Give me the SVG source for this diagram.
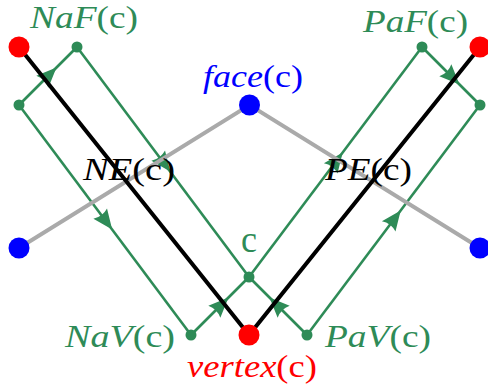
<svg xmlns="http://www.w3.org/2000/svg" xmlns:xlink="http://www.w3.org/1999/xlink" width="488" height="390" viewBox="0 0 488 390">
<style>
.g{stroke:#2e8b57;stroke-width:2.6;fill:none}
.gr{stroke:#aaaaaa;stroke-width:4;fill:none}
.bk{stroke:#000;stroke-width:4;fill:none}
.gn{fill:#2e8b57}
.rn{fill:#ff0000}
.bn{fill:#0000ff}
.ah{fill:#2e8b57}
text{font-family:"Liberation Serif","Times New Roman",serif;font-size:32px}
.it{font-style:italic}
</style>
<defs>
<path id="ah" d="M12,0 L-8,-8.5 Q-4,0 -8,8.5 Z"/>
</defs>
<g id="connectors">
<path class="g" d="M19,105 L77,47"/>
<path class="g" d="M19,105 L191,335"/>
<path class="g" d="M191,335 L249,277"/>
<path class="g" d="M77,47 L249,277"/>
<path class="g" d="M422,47 L480,105"/>
<path class="g" d="M307,335 L480,105"/>
<path class="g" d="M307,335 L249,277"/>
<path class="g" d="M249,277 L422,47"/>
<g class="ah">
<use href="#ah" xlink:href="#ah" transform="translate(48,76) rotate(-45)"/>
<use href="#ah" xlink:href="#ah" transform="translate(105,220) rotate(53.2)"/>
<use href="#ah" xlink:href="#ah" transform="translate(220,306) rotate(-45)"/>
<use href="#ah" xlink:href="#ah" transform="translate(163,162) rotate(53.2)"/>
<use href="#ah" xlink:href="#ah" transform="translate(451,76) rotate(45)"/>
<use href="#ah" xlink:href="#ah" transform="translate(393.5,220) rotate(-53.1)"/>
<use href="#ah" xlink:href="#ah" transform="translate(278,306) rotate(-135)"/>
<use href="#ah" xlink:href="#ah" transform="translate(335.5,162) rotate(-53.1)"/>
</g>
<path class="gr" d="M19,248 L249.5,105 L480,248"/>
<path class="bk" d="M19,47 L249,335 L480,47"/>
</g>
<g id="label-NE"><text x="83" y="180" textLength="92" lengthAdjust="spacingAndGlyphs"><tspan class="it">NE</tspan>(c)</text></g>
<g id="label-PE"><text x="325" y="180" textLength="87" lengthAdjust="spacingAndGlyphs"><tspan class="it">PE</tspan>(c)</text></g>
<g id="node-face"><circle class="bn" cx="249.5" cy="105" r="10.5"/><text fill="#0000ff" x="203" y="87" textLength="100" lengthAdjust="spacingAndGlyphs"><tspan class="it">face</tspan>(c)</text></g>
<g id="node-blue-left"><circle class="bn" cx="19" cy="248" r="10.5"/></g>
<g id="node-blue-right"><circle class="bn" cx="480" cy="248" r="10.5"/></g>
<g id="node-red-left"><circle class="rn" cx="19" cy="47" r="10.5"/></g>
<g id="node-red-right"><circle class="rn" cx="480" cy="47" r="10.5"/></g>
<g id="node-vertex"><circle class="rn" cx="249" cy="335" r="10.5"/><text fill="#ff0000" x="187" y="377" textLength="130" lengthAdjust="spacingAndGlyphs"><tspan class="it">vertex</tspan>(c)</text></g>
<g id="node-NaF"><circle class="gn" cx="77" cy="47" r="5.5"/><text fill="#2e8b57" x="30" y="28" textLength="108" lengthAdjust="spacingAndGlyphs"><tspan class="it">NaF</tspan>(c)</text></g>
<g id="node-PaF"><circle class="gn" cx="422" cy="47" r="5.5"/><text fill="#2e8b57" x="363" y="32" textLength="105" lengthAdjust="spacingAndGlyphs"><tspan class="it">PaF</tspan>(c)</text></g>
<g id="node-green-left"><circle class="gn" cx="19" cy="105" r="5.5"/></g>
<g id="node-green-right"><circle class="gn" cx="480" cy="105" r="5.5"/></g>
<g id="node-c"><circle class="gn" cx="249" cy="277" r="5.5"/><text fill="#2e8b57" x="241" y="252" style="font-size:38px" textLength="16" lengthAdjust="spacingAndGlyphs">c</text></g>
<g id="node-NaV"><circle class="gn" cx="191" cy="335" r="5.5"/><text fill="#2e8b57" x="65" y="347" textLength="110" lengthAdjust="spacingAndGlyphs"><tspan class="it">NaV</tspan>(c)</text></g>
<g id="node-PaV"><circle class="gn" cx="307" cy="335" r="5.5"/><text fill="#2e8b57" x="325" y="347" textLength="106" lengthAdjust="spacingAndGlyphs"><tspan class="it">PaV</tspan>(c)</text></g>
</svg>
